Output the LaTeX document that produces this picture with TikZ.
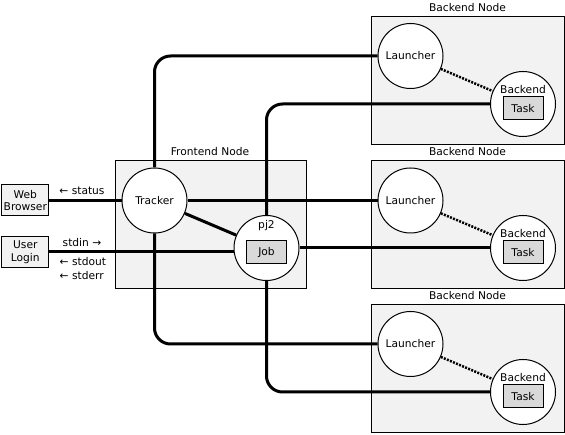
\documentclass[tikz,border=0pt]{standalone}
\usepackage{fontspec}
\setmainfont{DejaVu Sans}
\definecolor{boxgray}{HTML}{F2F2F2}
\definecolor{jobgray}{HTML}{D9D9D9}
\begin{document}
\begin{tikzpicture}[x=1pt,y=-1pt,
  font=\fontsize{10.67}{12.5}\selectfont,
  area/.style={draw, fill=boxgray, line width=1pt, anchor=north west,
    minimum width=193, minimum height=128, inner sep=0pt},
  smallbox/.style={draw, fill=boxgray, line width=1pt, minimum width=47,
    minimum height=31, align=center, inner sep=1pt},
  circ/.style={circle, draw, fill=white, line width=1pt, minimum size=65, inner sep=0pt},
  inbox/.style={draw, fill=jobgray, line width=1pt, minimum width=40, minimum height=23, inner sep=0pt},
  conn/.style={line width=3pt, rounded corners=16pt},
  dotline/.style={line width=2.5pt, dash pattern=on 2pt off 1.3pt},
  lbl/.style={inner sep=0pt}
]
\useasboundingbox (0,0) rectangle (565,435);

% areas
\node[area, minimum width=191] (front) at (114.5,160.5) {};
\node[area] (back1) at (371,16) {};
\node[area] (back2) at (371,160.5) {};
\node[area] (back3) at (371,304) {};
\node[lbl, anchor=base] (frontlbl) at (210,156) {Frontend Node};
\node[lbl, anchor=base] (back1lbl) at (467.5,11.5) {Backend Node};
\node[lbl, anchor=base] (back2lbl) at (467.5,156) {Backend Node};
\node[lbl, anchor=base] (back3lbl) at (467.5,299.5) {Backend Node};

% outside boxes
\node[smallbox] (web) at (25.3,200.5) {Web\\Browser};
\node[smallbox] (user) at (25.3,252) {User\\Login};

% circles
\node[circ] (tracker) at (154.5,200.5) {Tracker};
\node[circ] (pj2) at (266.5,248) {};
\node[lbl] (pj2lbl) at (266.5,226) {pj2};
\node[inbox] (job) at (266.5,252.5) {Job};

\node[circ] (launcher1) at (410.5,56) {Launcher};
\node[circ] (launcher2) at (410.5,200.5) {Launcher};
\node[circ] (launcher3) at (410.5,344) {Launcher};

\node[circ] (backend1) at (523,104) {};
\node[circ] (backend2) at (523,248) {};
\node[circ] (backend3) at (523,392) {};
\foreach \i/\y in {1/104,2/248,3/392}{
  \node[lbl] (blbl\i) at (523,\y-14) {Backend};
  \node[inbox] (task\i) at (523,\y+4.5) {Task};
}

% connectors
\draw[conn] (web.east) -- (tracker.west);
\draw[conn] (user.east) -- (user.east -| pj2.west);
\draw[conn] (tracker) -- (pj2);
\draw[conn] (tracker.north) |- (launcher1.west);
\draw[conn] (tracker.east) -- (launcher2.west);
\draw[conn] (tracker.south) |- (launcher3.west);
\draw[conn] (pj2.north) |- (backend1.west);
\draw[conn] (pj2.east) -- (backend2.west);
\draw[conn] (pj2.south) |- (backend3.west);
\draw[dotline] (launcher1) -- (backend1);
\draw[dotline] (launcher2) -- (backend2);
\draw[dotline] (launcher3) -- (backend3);

% labels
\node[lbl] (status) at (82,190.5) {← status};
\node[lbl] (stdin) at (82,243) {stdin →};
\node[lbl, anchor=west] (stdout) at (59.5,262) {← stdout};
\node[lbl, anchor=west] (stderr) at (59.5,275.5) {← stderr};
\end{tikzpicture}
\end{document}
